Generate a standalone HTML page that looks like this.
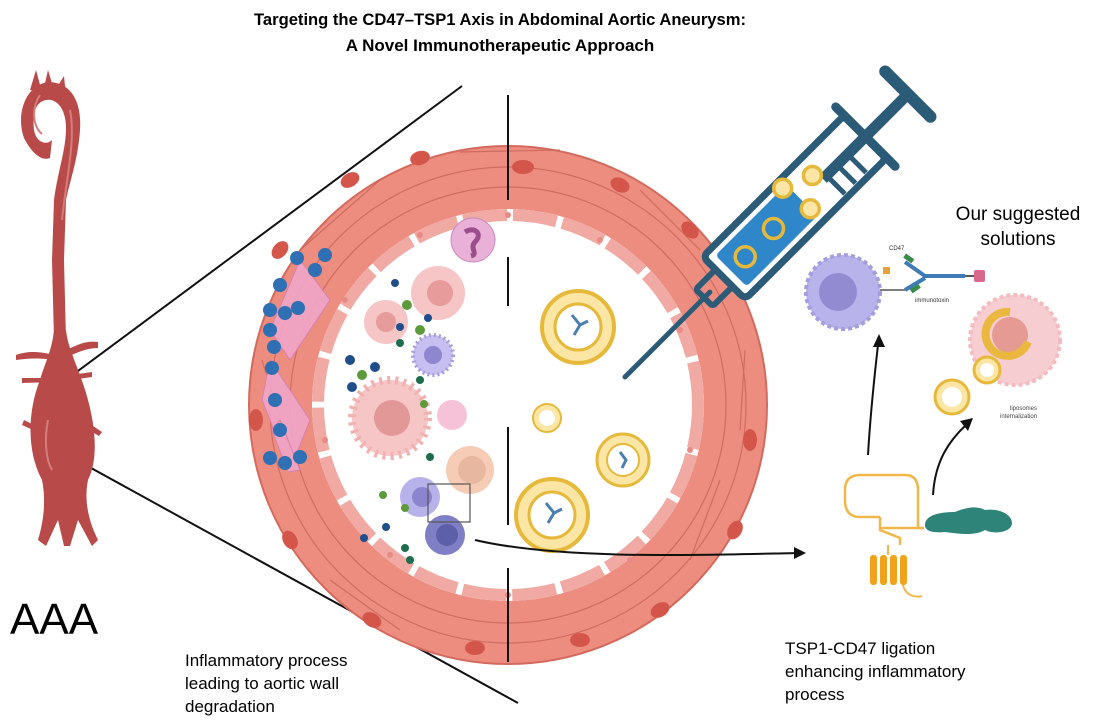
<!DOCTYPE html>
<html><head><meta charset="utf-8"><style>
html,body{margin:0;padding:0;background:#fff;}
svg{display:block;}
text{font-family:"Liberation Sans",sans-serif;}
</style></head><body>
<svg width="1100" height="726" viewBox="0 0 1100 726" xmlns="http://www.w3.org/2000/svg">
<rect width="1100" height="726" fill="#fff"/>
<!-- Title -->
<text x="500" y="25" text-anchor="middle" font-size="17" font-weight="bold" textLength="492" lengthAdjust="spacingAndGlyphs">Targeting the CD47–TSP1 Axis in Abdominal Aortic Aneurysm:</text>
<text x="500" y="51" text-anchor="middle" font-size="17" font-weight="bold">A Novel Immunotherapeutic Approach</text>

<!-- zoom lines -->
<line x1="55" y1="388" x2="462" y2="86" stroke="#111" stroke-width="2"/>
<line x1="62" y1="452" x2="518" y2="703" stroke="#111" stroke-width="2"/>

<!-- Aorta -->
<g fill="#b94a4a" stroke="none">
  <path d="M30 90 L36 70 L42 92 Z M44 88 L48 70 L54 90 Z M54 92 L64 76 L66 96 Z"/>
  <path d="M48 82 C70 82 82 100 80 130 C78 160 70 180 66 200 L64 260 L66 340 L54 340 L52 260 L54 200 C58 170 66 150 66 128 C66 108 56 98 46 100 C36 102 32 112 34 130 C36 142 46 146 52 140 L50 158 C40 162 30 150 24 138 C16 116 24 86 48 82 Z"/>
  <path d="M54 330 L66 330 C68 350 80 370 88 400 C96 430 98 460 88 480 C84 500 88 520 98 540 L92 546 L78 520 L70 546 L64 546 L58 520 L46 546 L38 540 C44 520 46 500 42 480 C26 450 28 410 40 380 C46 360 52 350 54 330 Z"/>
  <path d="M16 355 C30 350 40 352 56 355 L56 360 C40 358 30 358 16 360 Z M62 352 C75 346 85 340 98 342 L98 348 C85 348 75 354 64 358 Z M22 378 L56 378 L56 382 L22 383 Z M64 376 L92 372 L92 377 L64 381 Z M24 420 L44 430 L42 434 L22 425 Z M84 420 L102 432 L99 436 L82 426 Z"/>
</g>
<path d="M40 95 C30 110 34 128 42 134" stroke="#d67c7c" stroke-width="2" fill="none"/>
<path d="M70 110 C76 140 66 180 62 220" stroke="#d67c7c" stroke-width="2" fill="none"/>
<path d="M48 420 C44 440 46 460 52 470" stroke="#d67c7c" stroke-width="2" fill="none"/>
<text x="10" y="634" font-size="44">AAA</text>

<!-- Vessel ring -->
<circle cx="508" cy="405" r="259" fill="#ec8d80" stroke="#d46a5e" stroke-width="2"/>
<g stroke="#c96458" stroke-width="1.2" fill="none" opacity="0.8">
  <circle cx="508" cy="405" r="238"/>
  <circle cx="508" cy="405" r="218"/>
  <path d="M300 250 L380 180 M640 190 L700 250 M720 480 L690 560 M330 580 L400 630 M262 360 L290 450 M745 350 L740 430 M460 152 L560 150"/>
</g>
<g fill="#d4564b">
  <ellipse cx="280" cy="250" rx="10" ry="7" transform="rotate(-50 280 250)"/>
  <ellipse cx="350" cy="180" rx="10" ry="7" transform="rotate(-30 350 180)"/>
  <ellipse cx="420" cy="158" rx="10" ry="7" transform="rotate(-15 420 158)"/>
  <ellipse cx="523" cy="167" rx="11" ry="7"/>
  <ellipse cx="620" cy="185" rx="10" ry="7" transform="rotate(25 620 185)"/>
  <ellipse cx="690" cy="230" rx="10" ry="7" transform="rotate(45 690 230)"/>
  <ellipse cx="750" cy="440" rx="7" ry="11"/>
  <ellipse cx="735" cy="530" rx="10" ry="7" transform="rotate(-60 735 530)"/>
  <ellipse cx="660" cy="610" rx="10" ry="7" transform="rotate(-30 660 610)"/>
  <ellipse cx="580" cy="640" rx="10" ry="7"/>
  <ellipse cx="475" cy="648" rx="10" ry="7"/>
  <ellipse cx="372" cy="620" rx="10" ry="7" transform="rotate(30 372 620)"/>
  <ellipse cx="290" cy="540" rx="10" ry="7" transform="rotate(60 290 540)"/>
  <ellipse cx="256" cy="420" rx="7" ry="11"/>
</g>
<!-- inner lumen with endothelium -->
<circle cx="508" cy="405" r="196" fill="#fff"/>
<circle cx="508" cy="405" r="190" fill="none" stroke="#f1a9a3" stroke-width="12" stroke-dasharray="44 6"/>
<g fill="#e98a86"><circle cx="508" cy="215" r="3"/><circle cx="600" cy="240" r="3"/><circle cx="680" cy="330" r="3"/><circle cx="690" cy="450" r="3"/><circle cx="630" cy="560" r="3"/><circle cx="508" cy="595" r="3"/><circle cx="390" cy="555" r="3"/><circle cx="325" cy="440" r="3"/><circle cx="345" cy="300" r="3"/><circle cx="420" cy="235" r="3"/></g>
<circle cx="508" cy="405" r="180" fill="#fff"/>

<!-- left side: smooth muscle & macrophage crescents -->
<g fill="#f0a6c8" stroke="#d67fb0" stroke-width="1" opacity="0.9">
  <path d="M300 260 L330 300 L290 360 L270 330 Z"/>
  <path d="M270 360 L310 420 L290 470 L262 400 Z"/>
  <path d="M280 420 L300 470 L288 472 L272 430 Z"/>
</g>
<g fill="#2f6fb3">
  <circle cx="297" cy="258" r="7"/><circle cx="315" cy="270" r="7"/><circle cx="325" cy="255" r="7"/><circle cx="280" cy="285" r="7"/>
  <circle cx="270" cy="310" r="7"/><circle cx="270" cy="330" r="7"/><circle cx="274" cy="347" r="7"/><circle cx="285" cy="313" r="7"/>
  <circle cx="298" cy="308" r="7"/><circle cx="272" cy="368" r="7"/><circle cx="275" cy="400" r="7"/><circle cx="280" cy="430" r="7"/>
  <circle cx="270" cy="458" r="7"/><circle cx="285" cy="463" r="7"/><circle cx="300" cy="457" r="7"/>
</g>
<!-- cells left lumen -->
<circle cx="473" cy="240" r="22" fill="#e9b0d8" stroke="#c98bbd"/><path d="M465 232 c10 -6 18 2 10 10 c-6 6 4 12 -4 14" stroke="#9b4d8c" stroke-width="5" fill="none"/>
<circle cx="438" cy="293" r="27" fill="#f6c5c5"/><circle cx="440" cy="293" r="13" fill="#e79b9b"/>
<circle cx="386" cy="322" r="22" fill="#f6c5c5"/><circle cx="386" cy="322" r="10" fill="#e79b9b"/>
<circle cx="433" cy="355" r="20" fill="#c7bff0" stroke="#a69ce0" stroke-width="4" stroke-dasharray="2 3"/><circle cx="433" cy="355" r="9" fill="#8f86d0"/>
<circle cx="390" cy="418" r="38" fill="#f6c5c5" stroke="#f1b1b1" stroke-width="8" stroke-dasharray="3 5"/><circle cx="392" cy="418" r="18" fill="#e39898"/>
<circle cx="452" cy="415" r="15" fill="#f5c2d8"/>
<circle cx="470" cy="470" r="24" fill="#f6ccb6"/><circle cx="472" cy="470" r="14" fill="#e8b79f"/>
<circle cx="420" cy="497" r="20" fill="#b7b3ea"/><circle cx="422" cy="497" r="10" fill="#8b85cf"/>
<circle cx="445" cy="535" r="20" fill="#7f7fc6"/><circle cx="447" cy="535" r="11" fill="#5d5fa8"/>
<rect x="428" y="484" width="42" height="38" fill="none" stroke="#555" stroke-width="1.2"/>
<g fill="#1f4e8a"><circle cx="395" cy="283" r="4"/><circle cx="428" cy="318" r="4"/><circle cx="350" cy="360" r="5"/><circle cx="375" cy="367" r="5"/><circle cx="352" cy="387" r="5"/><circle cx="400" cy="327" r="4"/><circle cx="364" cy="538" r="4"/><circle cx="386" cy="527" r="4"/></g>
<g fill="#5d9a3c"><circle cx="407" cy="305" r="5"/><circle cx="420" cy="330" r="5"/><circle cx="362" cy="375" r="5"/><circle cx="424" cy="404" r="4"/><circle cx="383" cy="495" r="4"/><circle cx="405" cy="508" r="4"/></g>
<g fill="#1e6e4e"><circle cx="400" cy="343" r="4"/><circle cx="420" cy="380" r="4"/><circle cx="430" cy="457" r="4"/><circle cx="405" cy="548" r="4"/><circle cx="410" cy="560" r="4"/></g>

<!-- center dividing line -->
<g stroke="#111" stroke-width="2">
  <line x1="508" y1="95" x2="508" y2="200"/>
  <line x1="508" y1="257" x2="508" y2="306"/>
  <line x1="508" y1="427" x2="508" y2="525"/>
  <line x1="508" y1="568" x2="508" y2="662"/>
</g>

<!-- liposomes right lumen -->
<g>
  <circle cx="578" cy="327" r="36" fill="#fbe6a6" stroke="#e6b93b" stroke-width="4"/><circle cx="578" cy="327" r="23" fill="#fff" stroke="#e6b93b" stroke-width="3"/>
  <path d="M572 315 l8 10 l-6 10 m6 -10 l8 -4" stroke="#4a7fb0" stroke-width="3" fill="none"/>
  <circle cx="547" cy="418" r="14" fill="#fbe6a6" stroke="#e6b93b" stroke-width="2"/><circle cx="547" cy="418" r="8" fill="#fff"/>
  <circle cx="623" cy="460" r="26" fill="#fbe6a6" stroke="#e6b93b" stroke-width="3"/><circle cx="623" cy="460" r="16" fill="#fff" stroke="#e6b93b" stroke-width="2"/>
  <path d="M620 452 l6 8 l-4 8" stroke="#4a7fb0" stroke-width="3" fill="none"/>
  <circle cx="552" cy="515" r="36" fill="#fbe6a6" stroke="#e6b93b" stroke-width="4"/><circle cx="552" cy="515" r="23" fill="#fff" stroke="#e6b93b" stroke-width="3"/>
  <path d="M546 503 l8 10 l-6 10 m6 -10 l8 -4" stroke="#4a7fb0" stroke-width="3" fill="none"/>
</g>

<!-- connector from lumen cell to TSP1 -->
<path d="M475 540 C560 560 700 555 800 553" stroke="#111" stroke-width="2" fill="none"/>
<polygon points="806,553 794,547 794,559" fill="#111"/>

<!-- Syringe -->
<g transform="translate(625 377) rotate(-45)" stroke="#2c5b78" fill="none">
  <line x1="0" y1="0" x2="120" y2="0" stroke-width="5" stroke-linecap="round"/>
  <rect x="112" y="-12" width="28" height="24" rx="3" stroke-width="6"/>
  <rect x="140" y="-30" width="200" height="60" rx="6" stroke-width="7" fill="#fff"/>
  <rect x="150" y="-22" width="100" height="44" rx="4" fill="#2f86c8" stroke="none"/>
  <line x1="285" y1="-5" x2="285" y2="26" stroke-width="5"/>
  <line x1="300" y1="-5" x2="300" y2="26" stroke-width="5"/>
  <line x1="315" y1="-5" x2="315" y2="26" stroke-width="5"/>
  <line x1="340" y1="-42" x2="340" y2="42" stroke-width="9" stroke-linecap="round"/>
  <line x1="280" y1="0" x2="400" y2="0" stroke-width="11"/>
  <line x1="400" y1="-32" x2="400" y2="32" stroke-width="12" stroke-linecap="round"/>
  <g stroke="#e6b93b" stroke-width="3.5"><circle cx="170" cy="0" r="10"/><circle cx="210" cy="0" r="10"/><circle cx="245" cy="-22" r="9" fill="#fbe6a6"/><circle cx="250" cy="12" r="9" fill="#fbe6a6"/><circle cx="275" cy="-10" r="9" fill="#fbe6a6"/></g>
</g>

<!-- Right side -->
<text x="1018" y="220" text-anchor="middle" font-size="19">Our suggested</text>
<text x="1018" y="245" text-anchor="middle" font-size="19">solutions</text>

<circle cx="843" cy="292" r="37" fill="#b9b3ec" stroke="#a49dde" stroke-width="4" stroke-dasharray="4 3"/>
<circle cx="838" cy="292" r="19" fill="#928bd2"/>
<rect x="883" y="267" width="7" height="7" fill="#e9a23b"/>
<text x="889" y="250" font-size="6" fill="#333">CD47</text>
<g stroke="#3d7ab8" stroke-width="4" fill="none"><path d="M905 262 L925 276 L965 276"/><path d="M905 290 L925 278"/><line x1="880" y1="290" x2="905" y2="290" stroke="#555" stroke-width="1.5"/></g>
<g fill="#3a8a4c"><rect x="904" y="256" width="10" height="5" transform="rotate(35 909 258)"/><rect x="910" y="286" width="10" height="5" transform="rotate(-35 915 288)"/></g>
<line x1="965" y1="276" x2="975" y2="276" stroke="#222" stroke-width="1.5"/>
<rect x="974" y="270" width="11" height="12" rx="2" fill="#d9698c"/>
<text x="915" y="302" font-size="6" fill="#333">immunotoxin</text>

<circle cx="1015" cy="340" r="45" fill="#f6cdd0" stroke="#f2bcc1" stroke-width="4" stroke-dasharray="4 3"/>
<circle cx="1010" cy="335" r="18" fill="#e59a93"/>
<path d="M1010 312 a22 22 0 1 0 18 30" stroke="#eab73f" stroke-width="8" fill="none"/>
<circle cx="987" cy="370" r="13" fill="#fbe6a6" stroke="#e6b93b" stroke-width="3"/><circle cx="987" cy="370" r="7" fill="#fff"/>
<circle cx="952" cy="397" r="17" fill="#fbe6a6" stroke="#e6b93b" stroke-width="3"/><circle cx="952" cy="397" r="10" fill="#fff"/>
<text x="1010" y="410" font-size="6" fill="#444">liposomes</text>
<text x="1000" y="418" font-size="6" fill="#444">internalization</text>

<!-- arrows up -->
<path d="M868 455 C870 420 874 380 878 345" stroke="#111" stroke-width="2" fill="none"/>
<polygon points="879,334 873,347 885,347" fill="#111"/>
<path d="M933 495 C935 460 950 440 966 425" stroke="#111" stroke-width="2" fill="none"/>
<polygon points="973,418 960,421 968,431" fill="#111"/>

<!-- TSP1 / CD47 -->
<g stroke="#f0b84a" stroke-width="2.5" fill="none">
  <path d="M880 517 L860 517 Q845 517 845 500 L845 490 Q845 475 860 475 L905 475 Q918 475 918 490 L918 510 L918 528 L922 528"/>
  <path d="M880 517 L880 530 L900 538 L900 545"/>
</g>
<line x1="880" y1="528" x2="924" y2="528" stroke="#f0b84a" stroke-width="2.5"/>
<g fill="#f1a21c"><rect x="870" y="555" width="7" height="30" rx="3"/><rect x="880" y="555" width="7" height="30" rx="3"/><rect x="890" y="555" width="7" height="30" rx="3"/><rect x="900" y="555" width="7" height="30" rx="3"/></g>
<path d="M888 545 L888 555 M903 585 C905 595 915 598 922 596" stroke="#f0b84a" stroke-width="2" fill="none"/>
<path d="M925 525 C925 515 940 512 955 512 C965 508 975 505 985 510 C1000 508 1012 515 1012 523 C1012 532 995 535 985 530 C975 536 960 534 945 532 C935 533 925 532 925 525 Z" fill="#2e8479"/>

<!-- bottom texts -->
<text x="185" y="666" font-size="17">Inflammatory process</text>
<text x="185" y="689" font-size="17">leading to aortic wall</text>
<text x="185" y="712" font-size="17">degradation</text>
<text x="785" y="654" font-size="17">TSP1-CD47 ligation</text>
<text x="785" y="677" font-size="17">enhancing inflammatory</text>
<text x="785" y="700" font-size="17">process</text>
</svg>
</body></html>
